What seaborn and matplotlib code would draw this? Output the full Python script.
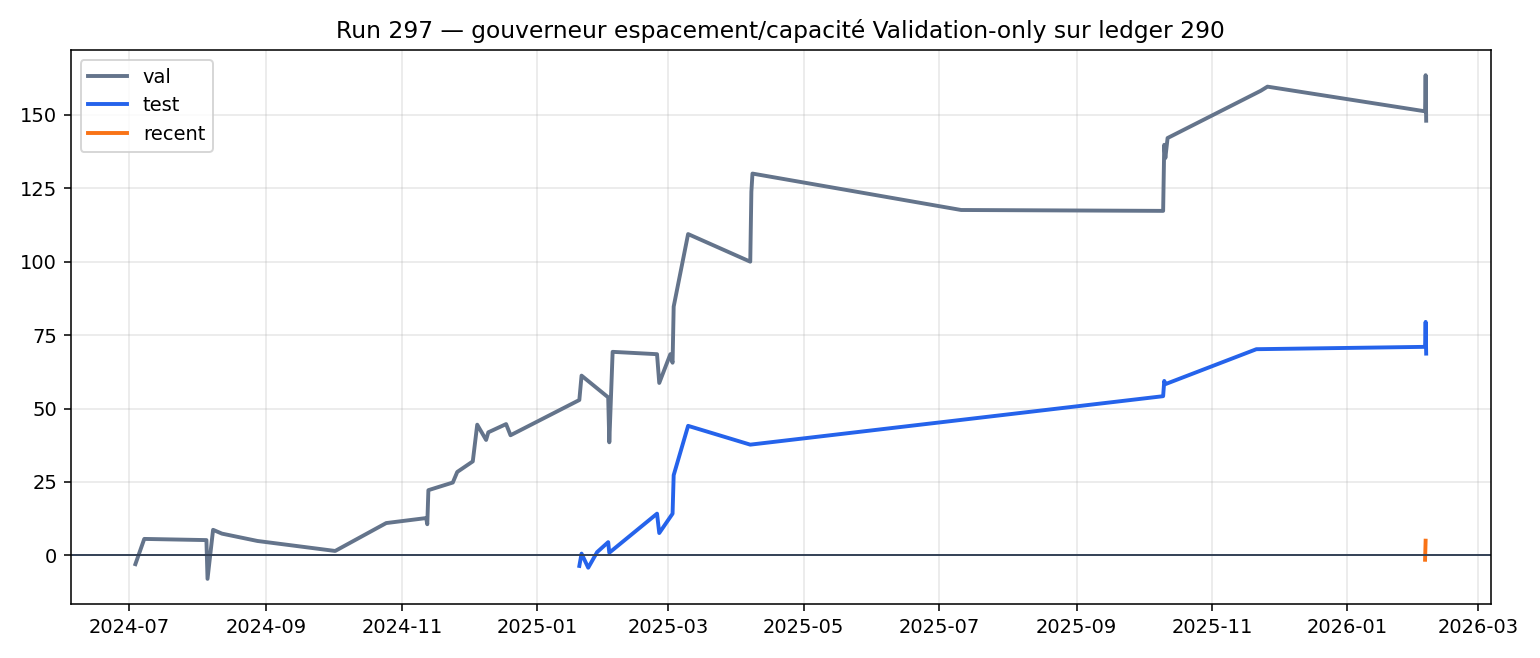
import pandas as pd
import matplotlib
matplotlib.use("Agg")
import matplotlib.pyplot as plt
import matplotlib.dates as mdates
import seaborn as sns

# values
val_dates = ["2024-07-04", "2024-07-08", "2024-08-05", "2024-08-05 12:00", "2024-08-08",
             "2024-08-12", "2024-08-28", "2024-10-02", "2024-10-25", "2024-11-12",
             "2024-11-12 12:00", "2024-11-13", "2024-11-24", "2024-11-26", "2024-12-03",
             "2024-12-05", "2024-12-09", "2024-12-10", "2024-12-18", "2024-12-20",
             "2025-01-20", "2025-01-21", "2025-02-02", "2025-02-02 12:00", "2025-02-04",
             "2025-02-24", "2025-02-25", "2025-03-02", "2025-03-03", "2025-03-03 12:00",
             "2025-03-10", "2025-04-07", "2025-04-07 12:00", "2025-04-08", "2025-07-11",
             "2025-10-10", "2025-10-10 12:00", "2025-10-11", "2025-10-12", "2025-11-23",
             "2025-11-26", "2026-02-05", "2026-02-05 06:00", "2026-02-05 12:00"]
val_values = [-3.0, 5.6, 5.2, -8.0, 8.7,
              7.4, 4.9, 1.5, 11.0, 12.7,
              10.6, 22.2, 24.8, 28.4, 32.0,
              44.5, 39.3, 41.9, 44.7, 40.9,
              52.9, 61.2, 53.8, 38.5, 69.3,
              68.5, 58.7, 68.5, 65.6, 84.7,
              109.4, 100.0, 123.8, 130.0, 117.6,
              117.3, 139.8, 135.3, 142.1, 158.2,
              159.6, 151.2, 163.5, 148.0]

test_dates = ["2025-01-20", "2025-01-21", "2025-01-24", "2025-01-28", "2025-02-02",
              "2025-02-02 12:00", "2025-02-24", "2025-02-25", "2025-03-03", "2025-03-03 12:00",
              "2025-03-10", "2025-04-07", "2025-10-10", "2025-10-10 12:00", "2025-10-11",
              "2025-11-21", "2026-02-05", "2026-02-05 06:00", "2026-02-05 12:00"]
test_values = [-3.6, 0.6, -4.2, 1.1, 4.5,
               0.9, 14.2, 7.6, 14.2, 27.3,
               44.1, 37.7, 54.2, 59.4, 58.3,
               70.2, 71.0, 79.5, 68.7]

recent_dates = ["2026-02-05", "2026-02-05 06:00"]
recent_values = [-1.5, 5.0]

colors = {"val": "#64748b", "test": "#2563eb", "recent": "#f97316"}


def makeFrame(dates, values, name):
    return pd.DataFrame({"date": pd.to_datetime(dates, format="mixed"),
                         "value": values, "split": name})


df = pd.concat([makeFrame(val_dates, val_values, "val"),
                makeFrame(test_dates, test_values, "test"),
                makeFrame(recent_dates, recent_values, "recent")], ignore_index=True)

plt.rcParams['font.family'] = ['DejaVu Sans']

fig, ax = plt.subplots(figsize=(11, 4.7), dpi=140)
fig.subplots_adjust(left=0.046, right=0.968, bottom=0.082, top=0.924)

sns.lineplot(data=df, x="date", y="value", hue="split", palette=colors,
             sort=False, estimator=None, linewidth=2, ax=ax)

ax.axhline(0, color="#334155", linewidth=1)
ax.grid(True, alpha=0.3)
ax.xaxis.set_major_locator(mdates.MonthLocator(bymonth=[1, 3, 5, 7, 9, 11]))
ax.xaxis.set_major_formatter(mdates.DateFormatter("%Y-%m"))
ax.set_xlabel("")
ax.set_ylabel("")
ax.set_title("Run 297 — gouverneur espacement/capacité Validation-only sur ledger 290")
ax.legend(loc="upper left", title=None)

fig.savefig("out.png", dpi=140)
